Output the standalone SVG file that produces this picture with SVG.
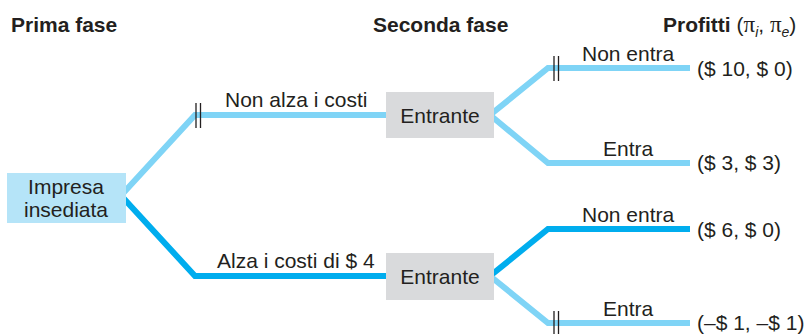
<svg xmlns="http://www.w3.org/2000/svg" width="806" height="334" viewBox="0 0 806 334">
  <style>
    text { font-family: "Liberation Sans", Arial, sans-serif; fill: #231f20; }
    .hdr { font-size: 21px; font-weight: bold; }
    .lbl { font-size: 21px; }
    .reg { font-weight: normal; }
    .pi { font-weight: normal; font-family: "Liberation Serif", serif; font-size: 23px; }
    .sub { font-weight: normal; font-style: italic; font-size: 14px; }
    .light { fill: none; stroke: #7fd4f6; stroke-width: 6; stroke-linejoin: miter; }
    .dark { fill: none; stroke: #00adee; stroke-width: 6; stroke-linejoin: miter; }
    .tick { stroke: #231f20; stroke-width: 1.3; }
    .inc { fill: #b5e4f8; }
    .ent { fill: #d9dadc; }
  </style>

  <!-- column headings -->
  <text class="hdr" x="11" y="32">Prima fase</text>
  <text class="hdr" x="373" y="32">Seconda fase</text>
  <text class="hdr" x="663" y="32">Profitti <tspan class="reg">(</tspan><tspan class="pi">π</tspan><tspan class="sub" dy="5">i</tspan><tspan class="reg" dy="-5">, </tspan><tspan class="pi">π</tspan><tspan class="sub" dy="5">e</tspan><tspan class="reg" dy="-5">)</tspan></text>

  <!-- branches -->
  <g id="connectors">
    <path class="light" d="M121,195.5 L195,115 L390,115"/>
    <path class="dark" d="M121,195.5 L195,276 L390,276"/>
    <path class="light" d="M490,115 L548,68 L690,68"/>
    <path class="light" d="M490,115 L548,163 L690,163"/>
    <path class="dark" d="M490,276 L548,229 L690,229"/>
    <path class="light" d="M490,276 L548,323 L690,323"/>
    <!-- cut marks on the pruned branches -->
    <line class="tick" x1="196" y1="103" x2="196" y2="128"/>
    <line class="tick" x1="200.5" y1="103" x2="200.5" y2="128"/>
    <line class="tick" x1="554" y1="56" x2="554" y2="81"/>
    <line class="tick" x1="558.5" y1="56" x2="558.5" y2="81"/>
    <line class="tick" x1="554" y1="311" x2="554" y2="336"/>
    <line class="tick" x1="558.5" y1="311" x2="558.5" y2="336"/>
    <!-- branch labels -->
    <text class="lbl" x="225" y="107">Non alza i costi</text>
    <text class="lbl" x="217" y="268">Alza i costi di $ 4</text>
    <text class="lbl" x="582" y="61">Non entra</text>
    <text class="lbl" x="603" y="156">Entra</text>
    <text class="lbl" x="582" y="222">Non entra</text>
    <text class="lbl" x="603" y="316">Entra</text>
  </g>

  <g id="incumbent">
    <rect class="inc" x="7" y="173" width="119" height="50"/>
    <text class="lbl" x="66" y="194" text-anchor="middle">Impresa</text>
    <text class="lbl" x="66" y="217" text-anchor="middle">insediata</text>
  </g>

  <g id="entrant-top">
    <rect class="ent" x="386" y="92" width="108" height="46"/>
    <text class="lbl" x="440" y="123" text-anchor="middle">Entrante</text>
  </g>

  <g id="entrant-bottom">
    <rect class="ent" x="386" y="253" width="108" height="47"/>
    <text class="lbl" x="440" y="284" text-anchor="middle">Entrante</text>
  </g>

  <!-- payoffs -->
  <g id="payoffs">
    <text class="lbl" x="697" y="76">($ 10, $ 0)</text>
    <text class="lbl" x="697" y="170">($ 3, $ 3)</text>
    <text class="lbl" x="697" y="237">($ 6, $ 0)</text>
    <text class="lbl" x="697" y="330">(–$ 1, –$ 1)</text>
  </g>
</svg>
